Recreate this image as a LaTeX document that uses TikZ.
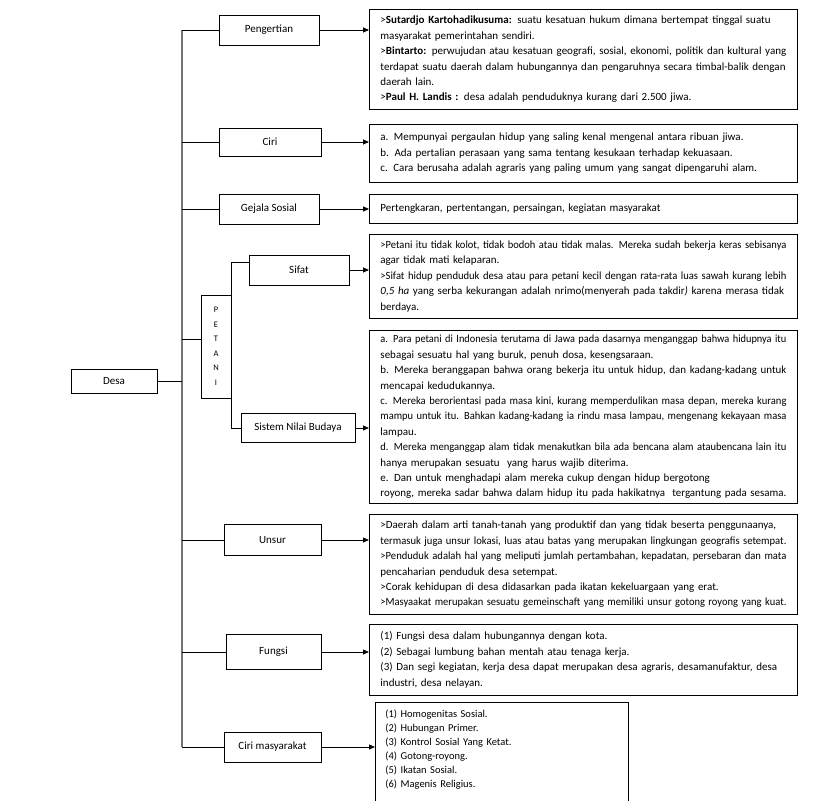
\documentclass[tikz,border=0pt]{standalone}
\usepackage{fontspec}
\setmainfont{Carlito}
\usetikzlibrary{arrows.meta,positioning}
\newsavebox\jlbox
\newcommand\jl[1]{\sbox\jlbox{#1}%
  \ifdim\wd\jlbox>406pt\resizebox{406pt}{\height}{\usebox\jlbox}%
  \else\makebox[406pt][s]{#1}\fi}
\begin{document}
\begin{tikzpicture}[x=1pt, y=-1pt,
      topicbox/.style={draw, line width=0.9pt, inner sep=0pt,
        font=\fontsize{11}{13}\selectfont},
      infobox/.style={draw, line width=0.9pt, anchor=north west,
        text width=406pt, inner xsep=11pt, inner ysep=3pt, align=left,
        font=\fontsize{11}{15.4}\selectfont},
      trunkline/.style={draw=black!55, line width=1.6pt},
      branchline/.style={line width=0.8pt},
      toarrow/.style={line width=0.8pt, -{Triangle[length=6pt,width=5pt]}}]
      \useasboundingbox (0,0) rectangle (813,800);

      % Kotak judul
      \node[topicbox, minimum width=86pt, minimum height=24pt] (desa) at (114,381) {Desa};
      \node[topicbox, minimum width=100pt, minimum height=30pt] (pengertian) at (269,30) {Pengertian};
      \node[topicbox, minimum width=102pt, minimum height=28pt] (ciri) at (270,142) {Ciri};
      \node[topicbox, minimum width=100pt, minimum height=30pt] (gejala) at (269,209) {Gejala Sosial};
      \node[topicbox, minimum width=30pt, minimum height=103pt, align=center,
        font=\fontsize{8.5}{14.5}\selectfont] (petani) at (216,346.5) {P\\E\\T\\A\\N\\I};
      \node[topicbox, minimum width=100pt, minimum height=30pt] (sifat) at (299,270) {Sifat};
      \node[topicbox, minimum width=114pt, minimum height=29pt] (nilai) at (298,428) {Sistem Nilai Budaya};
      \node[topicbox, minimum width=97pt, minimum height=31pt] (unsur) at (272.5,540) {Unsur};
      \node[topicbox, minimum width=95pt, minimum height=35pt] (fungsi) at (273.5,652) {Fungsi};
      \node[topicbox, minimum width=97pt, minimum height=30pt] (cirimas) at (272.5,747) {Ciri masyarakat};

      % Kotak keterangan
      \node[infobox, minimum height=100pt] (tpengertian) at (369,9) {%
        \jl{>\textbf{Sutardjo Kartohadikusuma:} suatu kesatuan hukum dimana bertempat tinggal suatu}\\
        masyarakat pemerintahan sendiri.\\
        \jl{>\textbf{Bintarto:} perwujudan atau kesatuan geografi, sosial, ekonomi, politik dan kultural yang}\\
        \jl{terdapat suatu daerah dalam hubungannya dan pengaruhnya secara timbal-balik dengan}\\
        daerah lain.\\
        >\textbf{Paul H. Landis :} desa adalah penduduknya kurang dari 2.500 jiwa.};
      \node[infobox, minimum height=58pt] (tciri) at (369,124) {%
        a. Mempunyai pergaulan hidup yang saling kenal mengenal antara ribuan jiwa.\\
        b. Ada pertalian perasaan yang sama tentang kesukaan terhadap kekuasaan.\\
        c. Cara berusaha adalah agraris yang paling umum yang sangat dipengaruhi alam.};
      \node[infobox, minimum height=29pt] (tgejala) at (369,194) {%
        Pertengkaran, pertentangan, persaingan, kegiatan masyarakat};
      \node[infobox, minimum height=84pt] (tsifat) at (369,234) {%
        \jl{>Petani itu tidak kolot, tidak bodoh atau tidak malas. Mereka sudah bekerja keras sebisanya}\\
        agar tidak mati kelaparan.\\
        \jl{>Sifat hidup penduduk desa atau para petani kecil dengan rata-rata luas sawah kurang lebih}\\
        \jl{\textit{0,5 ha} yang serba kekurangan adalah nrimo(menyerah pada takdir\textit{)} karena merasa tidak}\\
        berdaya.};
      \node[infobox, minimum height=173pt] (tnilai) at (369,330) {%
        \jl{a. Para petani di Indonesia terutama di Jawa pada dasarnya menganggap bahwa hidupnya itu}\\
        sebagai sesuatu hal yang buruk, penuh dosa, kesengsaraan.\\
        \jl{b. Mereka beranggapan bahwa orang bekerja itu untuk hidup, dan kadang-kadang untuk}\\
        mencapai kedudukannya.\\
        \jl{c. Mereka berorientasi pada masa kini, kurang memperdulikan masa depan, mereka kurang}\\
        \jl{mampu untuk itu. Bahkan kadang-kadang ia rindu masa lampau, mengenang kekayaan masa}\\
        lampau.\\
        \jl{d. Mereka menganggap alam tidak menakutkan bila ada bencana alam ataubencana lain itu}\\
        hanya merupakan sesuatu \ yang harus wajib diterima.\\
        e. Dan untuk menghadapi alam mereka cukup dengan hidup bergotong\\
        \jl{royong, mereka sadar bahwa dalam hidup itu pada hakikatnya \ tergantung pada sesama.}};
      \node[infobox, minimum height=100pt] (tunsur) at (369,514) {%
        \jl{>Daerah dalam arti tanah-tanah yang produktif dan yang tidak beserta penggunaanya,}\\
        \jl{termasuk juga unsur lokasi, luas atau batas yang merupakan lingkungan geografis setempat.}\\
        \jl{>Penduduk adalah hal yang meliputi jumlah pertambahan, kepadatan, persebaran dan mata}\\
        pencaharian penduduk desa setempat.\\
        >Corak kehidupan di desa didasarkan pada ikatan kekeluargaan yang erat.\\
        \jl{>Masyaakat merupakan sesuatu gemeinschaft yang memiliki unsur gotong royong yang kuat.}};
      \node[infobox, minimum height=71pt] (tfungsi) at (369,624) {%
        (1) Fungsi desa dalam hubungannya dengan kota.\\
        (2) Sebagai lumbung bahan mentah atau tenaga kerja.\\
        \jl{(3) Dan segi kegiatan, kerja desa dapat merupakan desa agraris, desamanufaktur, desa}\\
        industri, desa nelayan.};
      \node[infobox, text width=233pt, inner xsep=10pt, inner ysep=7pt,
        font=\fontsize{10.5}{14}\selectfont] (tcirimas) at (375,702) {%
        (1) Homogenitas Sosial.\\
        (2) Hubungan Primer.\\
        (3) Kontrol Sosial Yang Ketat.\\
        (4) Gotong-royong.\\
        (5) Ikatan Sosial.\\
        (6) Magenis Religius.\rule[-14pt]{0pt}{14pt}};

      % Garis penghubung
      \coordinate (trunk) at (182,0);
      \draw[trunkline] (pengertian.west -| trunk) -- (cirimas.west -| trunk);
      \draw[branchline] (desa.east) -- (desa.east -| trunk);
      \foreach \n in {pengertian,ciri,gejala,unsur,fungsi,cirimas}
        \draw[branchline] (\n.west -| trunk) -- (\n.west);
      \draw[branchline] ([yshift=7pt]petani.west -| trunk) -- ([yshift=7pt]petani.west);
      \draw[branchline] ([yshift=-8pt]sifat.north west) -| (petani.north east);
      \draw[branchline] (nilai.west) -| (petani.south east);

      % Panah ke keterangan
      \foreach \a/\b in {pengertian/tpengertian, ciri/tciri, gejala/tgejala,
        sifat/tsifat, nilai/tnilai, unsur/tunsur, fungsi/tfungsi, cirimas/tcirimas}
        \draw[toarrow] (\a.east) -- (\a.east -| \b.west);
    \end{tikzpicture}
\end{document}
